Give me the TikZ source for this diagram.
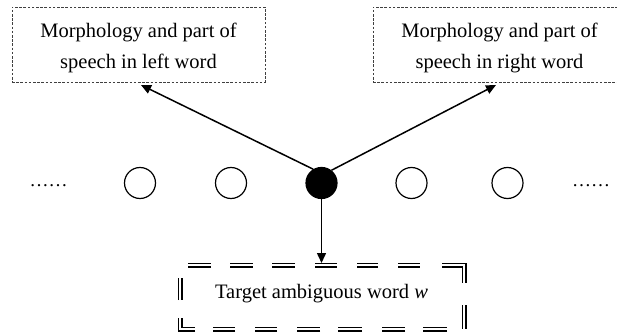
\documentclass[tikz,border=0pt]{standalone}
\usepackage{fontspec}
\setmainfont{Liberation Serif}
\usetikzlibrary{arrows.meta}
\tikzset{
  dbox/.style={draw=black!75, line width=0.8pt, dash pattern=on 2.6pt off 1.6pt, rectangle, inner sep=0pt, minimum width=253pt, minimum height=75pt},
  lbl/.style={font=\fontsize{20.5}{31}\selectfont, align=center, inner sep=0pt},
  ring/.style={circle, draw, line width=1.2pt, minimum size=31pt, inner sep=0pt},
  dot/.style={circle, fill=black, draw, line width=1.2pt, minimum size=31pt, inner sep=0pt},
  arr/.style={line width=1.5pt, -{Triangle[length=10pt,width=9pt]}},
  tframe/.style={draw, line width=1.5pt, double, double distance=2pt,
    dash pattern=on 23pt off 19pt on 23pt off 19pt on 23pt off 20pt on 22pt off 20pt on 21pt off 20pt on 22pt off 22pt on 40pt off 22pt on 24pt off 17pt on 24pt off 18pt on 23pt off 20pt on 24pt off 18pt on 23pt off 20pt on 22pt off 20pt on 22pt off 18pt on 26pt off 18pt on 22pt off 21pt},
  dots/.style={font=\fontsize{19}{19}\selectfont, inner sep=0pt, anchor=base}
}
\begin{document}
\begin{tikzpicture}[x=1pt, y=-1pt]
\useasboundingbox (0,0) rectangle (617,336);
\clip (0,0) rectangle (617,336);
% top boxes
\node[dbox] (lbox) at (138.5,44.5) {};
\node[lbl] (ltext) at (138.5,48) {Morphology and part of\\speech in left word};
\node[dbox] (rbox) at (499.5,44.5) {};
\node[lbl] (rtext) at (499.5,48) {Morphology and part of\\speech in right word};
% row of words
\node[dots] (ldots) at (48.5,187) {……};
\node[ring] (c1) at (140,183) {};
\node[ring] (c2) at (231,183) {};
\node[dot] (fc) at (321.5,183) {};
\node[ring] (c4) at (411.5,183) {};
\node[ring] (c5) at (507.5,183) {};
\node[dots] (rdots) at (591,187) {……};
% target box
\draw[tframe] (188,265) -- (464,265) -- (464,329) -- (180,329) -- (180,265) -- cycle;
\node[lbl] (tbox) at (321.5,293.5) {Target ambiguous word \textit{w}};
% arrow ends
\coordinate (ltip) at (141,85);
\coordinate (rtip) at (496,85);
\coordinate (ttip) at (321.5,263);
\draw[arr] (fc.121) -- (ltip);
\draw[arr] (fc.52) -- (rtip);
\draw[arr] (fc.south) -- (ttip);
\end{tikzpicture}
\end{document}
